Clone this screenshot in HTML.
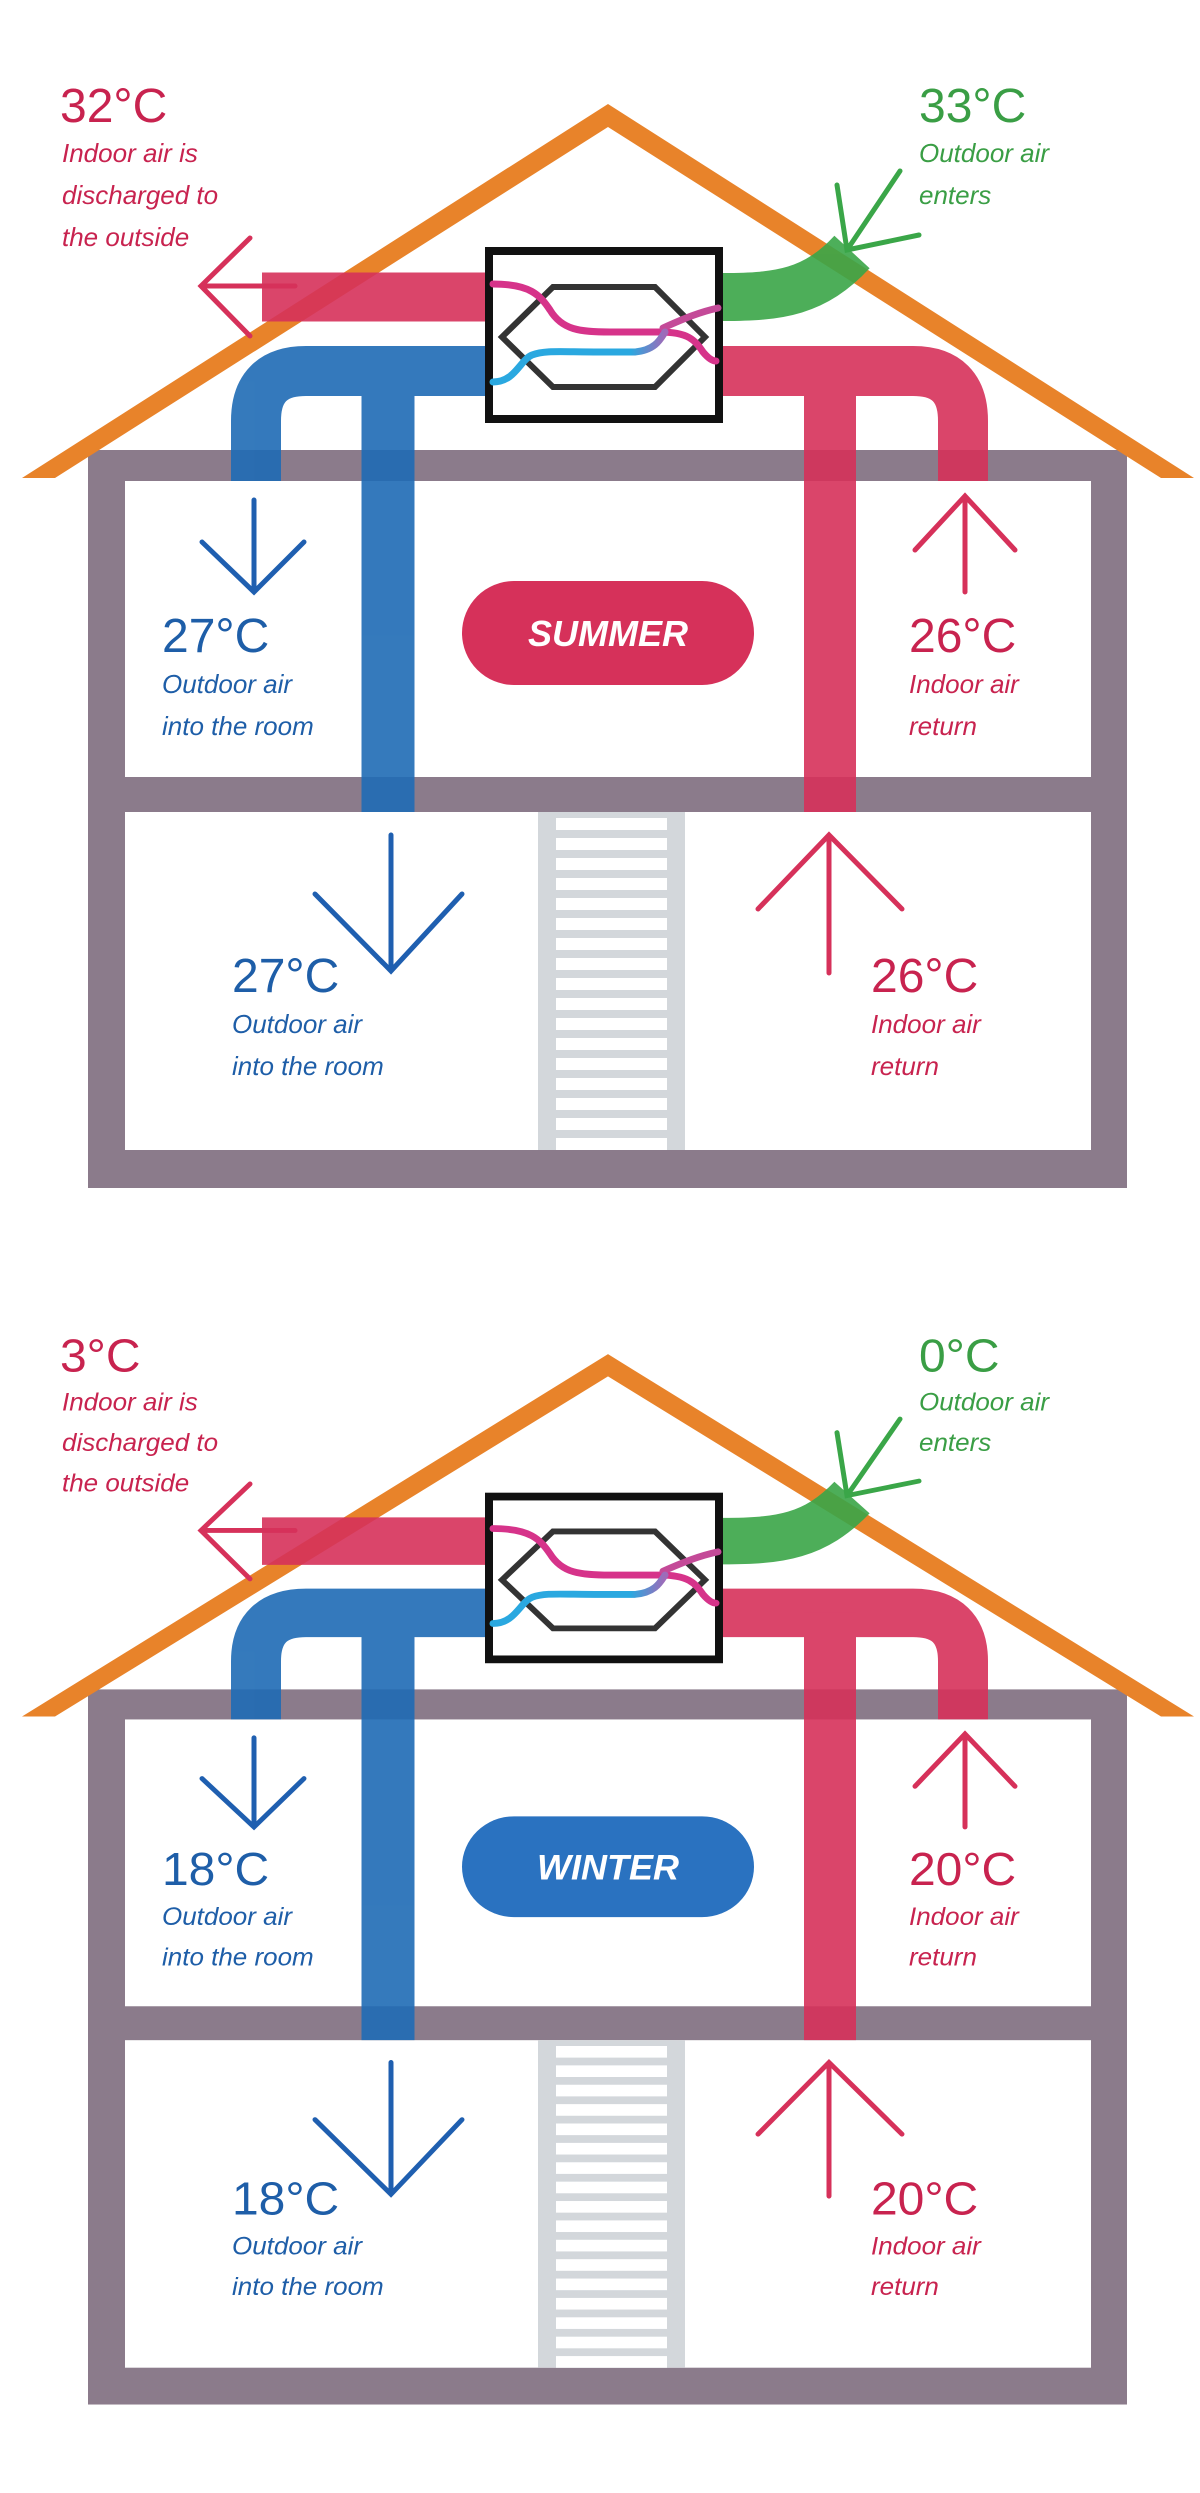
<!DOCTYPE html>
<html><head><meta charset="utf-8"><style>
html,body{margin:0;padding:0;background:#fff;}
svg{display:block;}
.t{font-family:"Liberation Sans",sans-serif;font-size:48px;}
.s{font-family:"Liberation Sans",sans-serif;font-style:italic;font-size:26px;}
.r{fill:#c8234f}.b{fill:#1e5ea8}.g{fill:#3a9e45}
</style></head><body>
<svg width="1200" height="2493" viewBox="0 0 1200 2493" xmlns="http://www.w3.org/2000/svg">
<defs>
<linearGradient id="pb" x1="0" x2="1"><stop offset="0.8" stop-color="#2aa8e0"/><stop offset="1" stop-color="#a06ab8"/></linearGradient>
<g id="house">
  <rect x="88" y="450" width="1039" height="738" fill="#8b7b8b"/>
  <rect x="125" y="481" width="966" height="296" fill="#fff"/>
  <rect x="125" y="812" width="966" height="338" fill="#fff"/>
  <!-- ladder -->
  <rect x="538" y="812" width="147" height="338" fill="#d3d7db"/>
  <g fill="#fff">
    <rect x="556" y="818" width="111" height="12"/><rect x="556" y="838" width="111" height="12"/>
    <rect x="556" y="858" width="111" height="12"/><rect x="556" y="878" width="111" height="12"/>
    <rect x="556" y="898" width="111" height="12"/><rect x="556" y="918" width="111" height="12"/>
    <rect x="556" y="938" width="111" height="12"/><rect x="556" y="958" width="111" height="12"/>
    <rect x="556" y="978" width="111" height="12"/><rect x="556" y="998" width="111" height="12"/>
    <rect x="556" y="1018" width="111" height="12"/><rect x="556" y="1038" width="111" height="12"/>
    <rect x="556" y="1058" width="111" height="12"/><rect x="556" y="1078" width="111" height="12"/>
    <rect x="556" y="1098" width="111" height="12"/><rect x="556" y="1118" width="111" height="12"/>
    <rect x="556" y="1138" width="111" height="12"/>
  </g>
  <!-- roof -->
  <polygon points="22,478 608,104 1194,478 1161,478 608,127 55,478" fill="#e8832a"/>
  <!-- ducts -->
  <g fill="none" opacity="0.9">
    <path d="M485,297 H262" stroke="#d6315a" stroke-width="49"/>
    <path d="M723,297 C780,297 815,292 852,252" stroke="#3aa648" stroke-width="48"/>
    <path d="M485,371 H306 Q256,371 256,421 V481" stroke="#1f6bb5" stroke-width="50"/>
    <path d="M388,371 V812" stroke="#1f6bb5" stroke-width="53"/>
    <path d="M723,371 H913 Q963,371 963,421 V481" stroke="#d6315a" stroke-width="50"/>
    <path d="M830,371 V812" stroke="#d6315a" stroke-width="52"/>
  </g>
  <!-- box -->
  <rect x="489" y="251" width="230" height="168" fill="#fff" stroke="#111" stroke-width="8"/>
  <polygon points="502,337 553,287 655,287 705,337 655,387 553,387" fill="none" stroke="#333" stroke-width="6"/>
  <g fill="none" stroke-width="7" stroke-linecap="round">
    <path d="M493,284 C530,284 540,295 550,310 C562,330 580,332 610,332 L660,332 C688,332 695,340 703,352 C708,358 712,361 716,361" stroke="#d6338a"/>
    <path d="M663,328 C685,318 700,312 718,308" stroke="#c44a98"/>
    <path d="M493,382 C515,382 520,360 532,355 C545,350 560,352 600,352 L635,352 C655,350 660,340 665,332" stroke="url(#pb)"/>
  </g>
  <!-- arrows -->
  <g fill="none" stroke-width="5" stroke-linecap="round">
    <path d="M295,286 H201 M250,238 L201,286 L250,336" stroke="#d6315a"/>
    <path d="M900,171 L847,250 M837,185 L847,250 L919,235" stroke="#3aa648"/>
    <path d="M254,500 V592 M202,542 L254,592 L304,542" stroke="#1f5fb0"/>
    <path d="M965,592 V496 M915,550 L965,496 L1015,550" stroke="#d6315a"/>
    <path d="M391,835 V971 M315,894 L391,971 L462,894" stroke="#1f5fb0"/>
    <path d="M829,973 V835 M758,909 L829,835 L902,909" stroke="#d6315a"/>
  </g>
</g>
</defs>

<use href="#house"/>
<rect x="462" y="581" width="292" height="104" rx="52" fill="#d6315a"/>
<text x="608" y="646" text-anchor="middle" fill="#fff" font-family="Liberation Sans, sans-serif" font-weight="bold" font-style="italic" font-size="36">SUMMER</text>
<text class="t r" x="60" y="122">32°C</text>
<text class="s r" x="62" y="162">Indoor air is</text>
<text class="s r" x="62" y="204">discharged to</text>
<text class="s r" x="62" y="246">the outside</text>
<text class="t g" x="919" y="122">33°C</text>
<text class="s g" x="919" y="162">Outdoor air</text>
<text class="s g" x="919" y="204">enters</text>
<text class="t b" x="162" y="652">27°C</text>
<text class="s b" x="162" y="693">Outdoor air</text>
<text class="s b" x="162" y="735">into the room</text>
<text class="t r" x="909" y="652">26°C</text>
<text class="s r" x="909" y="693">Indoor air</text>
<text class="s r" x="909" y="735">return</text>
<text class="t b" x="232" y="992">27°C</text>
<text class="s b" x="232" y="1033">Outdoor air</text>
<text class="s b" x="232" y="1075">into the room</text>
<text class="t r" x="871" y="992">26°C</text>
<text class="s r" x="871" y="1033">Indoor air</text>
<text class="s r" x="871" y="1075">return</text>

<g transform="translate(0,1358) scale(1,0.969) translate(0,-108)">
<use href="#house"/>
<rect x="462" y="581" width="292" height="104" rx="52" fill="#2a72c0"/>
<text x="608" y="646" text-anchor="middle" fill="#fff" font-family="Liberation Sans, sans-serif" font-weight="bold" font-style="italic" font-size="36">WINTER</text>
<text class="t r" x="60" y="122">3°C</text>
<text class="s r" x="62" y="162">Indoor air is</text>
<text class="s r" x="62" y="204">discharged to</text>
<text class="s r" x="62" y="246">the outside</text>
<text class="t g" x="919" y="122">0°C</text>
<text class="s g" x="919" y="162">Outdoor air</text>
<text class="s g" x="919" y="204">enters</text>
<text class="t b" x="162" y="652">18°C</text>
<text class="s b" x="162" y="693">Outdoor air</text>
<text class="s b" x="162" y="735">into the room</text>
<text class="t r" x="909" y="652">20°C</text>
<text class="s r" x="909" y="693">Indoor air</text>
<text class="s r" x="909" y="735">return</text>
<text class="t b" x="232" y="992">18°C</text>
<text class="s b" x="232" y="1033">Outdoor air</text>
<text class="s b" x="232" y="1075">into the room</text>
<text class="t r" x="871" y="992">20°C</text>
<text class="s r" x="871" y="1033">Indoor air</text>
<text class="s r" x="871" y="1075">return</text>
</g>
</svg>
</body></html>
